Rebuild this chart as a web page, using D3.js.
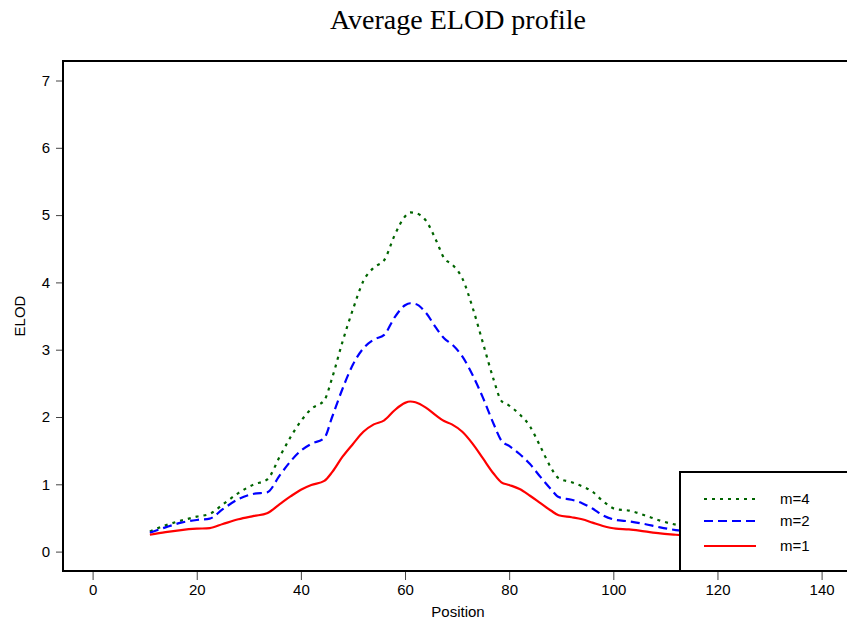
<!DOCTYPE html>
<html>
<head>
<meta charset="utf-8">
<script src="https://cdn.jsdelivr.net/npm/d3@7"></script>
<style>
  body { margin: 0; background: #fff; }
  svg { display: block; }
  .tick text { font-family: 'Liberation Sans', Arial, sans-serif; font-size: 15px; fill: #000; }
  .tick line { stroke: #444; }
  .domain { display: none; }
</style>
</head>
<body>
<script>
'use strict';

let WIDTH = 847;
let HEIGHT = 626;

// chart data
let positions = [11, 14, 17, 20, 22.5, 25, 28, 31, 33.5, 36, 38, 40, 42, 44.5, 46, 48, 50, 52, 54, 56,
    58, 60, 61, 62, 64, 66, 67.5, 69, 71, 73, 75, 77, 78.5, 80, 82, 84, 86, 88, 89.5, 92,
    94, 96, 98, 100.5, 103, 106, 109, 112, 115, 118];

let elodM1 = [0.25, 0.29, 0.32, 0.34, 0.35, 0.41, 0.48, 0.53, 0.57, 0.71, 0.82, 0.92, 0.99, 1.05, 1.18, 1.41, 1.60, 1.78, 1.89, 1.95,
    2.10, 2.21, 2.23, 2.22, 2.14, 2.02, 1.94, 1.89, 1.78, 1.60, 1.38, 1.16, 1.03, 0.99, 0.93, 0.83, 0.72, 0.61, 0.54, 0.51,
    0.48, 0.43, 0.38, 0.34, 0.33, 0.30, 0.27, 0.25, 0.23, 0.21];

let elodM2 = [0.28, 0.36, 0.43, 0.47, 0.49, 0.63, 0.78, 0.86, 0.88, 1.14, 1.34, 1.50, 1.60, 1.69, 2.00, 2.42, 2.78, 3.02, 3.15, 3.22,
    3.48, 3.66, 3.69, 3.68, 3.55, 3.32, 3.17, 3.08, 2.90, 2.62, 2.28, 1.90, 1.65, 1.57, 1.45, 1.30, 1.11, 0.93, 0.81, 0.77,
    0.72, 0.64, 0.54, 0.47, 0.45, 0.41, 0.36, 0.32, 0.29, 0.26];

let elodM4 = [0.30, 0.39, 0.46, 0.52, 0.56, 0.70, 0.87, 1.00, 1.07, 1.42, 1.70, 1.94, 2.12, 2.25, 2.58, 3.12, 3.60, 4.02, 4.22, 4.33,
    4.70, 4.98, 5.04, 5.03, 4.92, 4.62, 4.36, 4.27, 4.06, 3.62, 3.09, 2.56, 2.24, 2.17, 2.04, 1.86, 1.56, 1.25, 1.09, 1.03,
    0.97, 0.89, 0.75, 0.63, 0.61, 0.54, 0.46, 0.40, 0.36, 0.32];

let xTicks = [0, 20, 40, 60, 80, 100, 120, 140];
let yTicks = [0, 1, 2, 3, 4, 5, 6, 7];

let seriesNames = ['m=4', 'm=2', 'm=1'];
let seriesValues = [elodM4, elodM2, elodM1];
let seriesColors = ['#006400', '#0000ff', '#ff0000'];
let seriesDash = ['3,5', '9,5', null];

// plot frame (open on the right, runs off the page)
let FRAME_LEFT = 63;
let FRAME_TOP = 61;
let FRAME_BOTTOM = 571;
let FRAME_RIGHT = 900;

let x = d3.scaleLinear().domain([0, 140]).range([92.6, 821.6]);
let y = d3.scaleLinear().domain([0, 7]).range([551.6, 80.5]);

let svg = d3.select('body')
    .append('svg')
    .attr('width', WIDTH)
    .attr('height', HEIGHT);

// title
svg.append('text')
    .attr('x', 458)
    .attr('y', 29)
    .attr('text-anchor', 'middle')
    .style('font-family', "'Liberation Serif', 'Times New Roman', serif")
    .style('font-size', '28px')
    .text('Average ELOD profile');

// axes
svg.append('g')
    .attr('transform', 'translate(' + (FRAME_LEFT - 1) + ',0)')
    .call(d3.axisLeft(y).tickValues(yTicks).tickFormat(d3.format('d')).tickSize(6).tickPadding(6));

svg.append('g')
    .attr('transform', 'translate(0,' + (FRAME_BOTTOM + 1) + ')')
    .call(d3.axisBottom(x).tickValues(xTicks).tickFormat(d3.format('d')).tickSize(8).tickPadding(4));

// axis titles
svg.append('text')
    .attr('x', 458)
    .attr('y', 617)
    .attr('text-anchor', 'middle')
    .style('font-family', "'Liberation Sans', Arial, sans-serif")
    .style('font-size', '15px')
    .text('Position');

svg.append('text')
    .attr('transform', 'translate(25,316) rotate(-90)')
    .attr('text-anchor', 'middle')
    .style('font-family', "'Liberation Sans', Arial, sans-serif")
    .style('font-size', '15px')
    .text('ELOD');

// curves
let lineGen = d3.line()
    .curve(d3.curveMonotoneX)
    .x(function(d, i) { return x(positions[i]); })
    .y(function(d) { return y(d); });

svg.selectAll('path.series')
    .data(seriesValues)
    .enter()
    .append('path')
    .attr('class', 'series')
    .attr('fill', 'none')
    .attr('stroke', function(d, i) { return seriesColors[i]; })
    .attr('stroke-width', 2.2)
    .attr('stroke-dasharray', function(d, i) { return seriesDash[i]; })
    .attr('d', function(d) { return lineGen(d); });

// frame
svg.append('rect')
    .attr('x', FRAME_LEFT)
    .attr('y', FRAME_TOP)
    .attr('width', FRAME_RIGHT - FRAME_LEFT)
    .attr('height', FRAME_BOTTOM - FRAME_TOP)
    .attr('fill', 'none')
    .attr('stroke', '#000')
    .attr('stroke-width', 2);

// legend box
let legend = svg.append('g');
legend.append('rect')
    .attr('x', 680)
    .attr('y', 472)
    .attr('width', 220)
    .attr('height', FRAME_BOTTOM - 472)
    .attr('fill', '#fff')
    .attr('stroke', '#000')
    .attr('stroke-width', 2);

let legendY = [499, 521, 546];
seriesNames.forEach(function(name, i) {
    legend.append('line')
        .attr('x1', 704)
        .attr('x2', 756)
        .attr('y1', legendY[i])
        .attr('y2', legendY[i])
        .attr('stroke', seriesColors[i])
        .attr('stroke-width', 2.2)
        .attr('stroke-dasharray', seriesDash[i]);
    legend.append('text')
        .attr('x', 780)
        .attr('y', legendY[i] + 5)
        .style('font-family', "'Liberation Sans', Arial, sans-serif")
        .style('font-size', '15px')
        .text(name);
});
</script>
</body>
</html>
